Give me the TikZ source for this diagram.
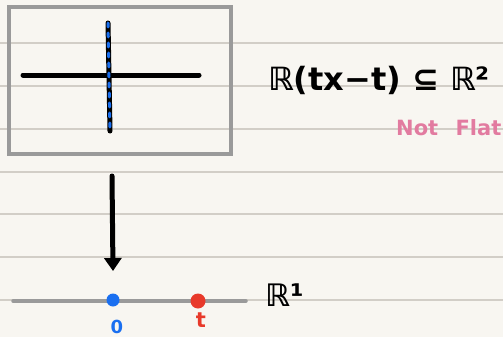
\documentclass[tikz,border=0pt]{standalone}
\usepackage{fontspec}
\newfontfamily\hand{DejaVu Sans}
\usetikzlibrary{arrows.meta}
\definecolor{paper}{HTML}{F8F6F1}
\definecolor{rule}{HTML}{D2CEC7}
\definecolor{frame}{HTML}{9A9A9A}
\definecolor{myblue}{HTML}{1A6FF0}
\definecolor{myred}{HTML}{E8392A}
\definecolor{mypink}{HTML}{E27BA0}
\tikzset{
  ink/.style={line width=5pt, line cap=round, black},
  ruled/.style={line width=1.2pt, rule},
  lbl/.style={inner sep=0pt, font=\hand\bfseries},
}
\begin{document}
\begin{tikzpicture}[x=1pt,y=-1pt]
\fill[paper] (0,0) rectangle (503,337);
\useasboundingbox (0,0) rectangle (503,337);
\clip (0,0) rectangle (503,337);
% notebook rules
\foreach \yy in {43,86,129,172,214,257,300}
  \draw[ruled] (0,\yy) -- (503,\yy);
% box
\draw[frame, line width=4pt] (9,7) rectangle (231,154);
\coordinate (hl) at (23,75);
\coordinate (hr) at (199,75);
\coordinate (vt) at (108,23);
\coordinate (vb) at (110,131);
\draw[ink] (hl) -- (hr);
\draw[ink] (vt) -- (vb);
\draw[myblue, line width=3pt, line cap=round, dash pattern=on 4pt off 6pt] (vt) -- (vb);
% arrow
\coordinate (as) at (112,176);
\coordinate (ae) at (113,271);
\draw[ink, -{Triangle[length=13pt 0, width=17pt 0]}] (as) -- (ae);
% number line
\coordinate (nl) at (13,301);
\coordinate (nr) at (246,301);
\draw[frame, line width=3.5pt, line cap=round] (nl) -- (nr);
\node[circle, fill=myblue, minimum size=13pt, inner sep=0pt] (zero) at (113,300) {};
\node[circle, fill=myred, minimum size=15pt, inner sep=0pt] (tee) at (198,301) {};
\node[lbl, text=myblue, font=\hand\bfseries\fontsize{18}{18}\selectfont] (zlab) at (117,327) {0};
\node[lbl, text=myred, font=\hand\bfseries\fontsize{21}{21}\selectfont] (tlab) at (201,320) {t};
% labels
\node[lbl, anchor=west, font=\hand\bfseries\fontsize{32}{32}\selectfont] (eq) at (268,80) {ℝ(tx−t) ⊆ ℝ²};
\node[lbl, anchor=west, text=mypink, font=\hand\bfseries\fontsize{21}{21}\selectfont] (nf) at (396,128) {Not\hspace{10pt} Flat};
\node[lbl, anchor=west, font=\hand\bfseries\fontsize{31}{31}\selectfont] (r1) at (265,295) {ℝ¹};
\end{tikzpicture}
\end{document}
